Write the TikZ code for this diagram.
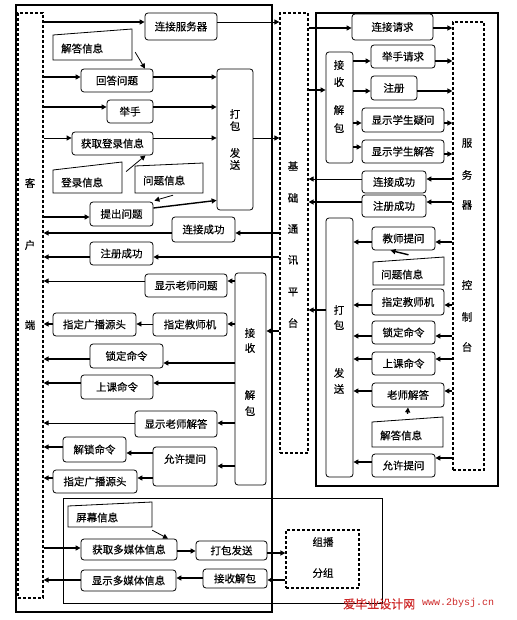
\documentclass[tikz,border=0pt]{standalone}
\usepackage{fontspec}
\setmainfont[FakeBold=0.3]{Noto Sans CJK SC}
\setmonofont{Liberation Mono}
\usetikzlibrary{arrows.meta,calc}
\definecolor{wmred}{RGB}{205,40,40}
\newcommand\fs{\fontsize{10.5}{12}\selectfont}
\tikzset{
  box/.style={draw, rounded corners=3pt, line width=0.8pt, inner sep=0pt, font=\fs},
  txt/.style={inner sep=0pt, font=\fs},
  fr/.style={draw, line width=1.1pt, inner sep=0pt},
  thinfr/.style={draw, line width=0.8pt, inner sep=0pt},
  dfr/.style={draw, dash pattern=on 3pt off 2pt, line width=1.2pt, inner sep=0pt},
  arr/.style={line width=1.4pt, -{Triangle[length=5pt,width=5pt]}},
  tarr/.style={line width=0.8pt, -{Triangle[length=5pt,width=5pt]}},
  docline/.style={line width=0.8pt},
}
% name x1 y1 x2 y2 text
\newcommand\mybox[6]{\node[box,minimum width={#4-#2},minimum height={#5-#3}] (#1) at ({(#2+#4)/2},{(#3+#5)/2}) {#6};}
% name x1 y1 x2 y2 style
\newcommand\myframe[6]{\node[#6,minimum width={#4-#2},minimum height={#5-#3}] (#1) at ({(#2+#4)/2},{(#3+#5)/2}) {};}
% name x1 ytopleft x2 ytopright ybottom text
\newcommand\mydoc[7]{%
  \node[inner sep=0pt,minimum width={#4-#2},minimum height={#6-#5}] (#1) at ({(#2+#4)/2},{(#5+#6)/2}) {};
  \draw[docline] (#2,#6) -- (#4,#6) -- (#4,#5) -- (#2,#3) -- cycle;
  \node[txt,anchor=west] (#1t) at ({#2+8},{(#3+#6)/2+1}) {#7};}
\newcommand\ch[4]{\node[txt] (#1) at (#2,#3) {#4};}
\begin{document}
\begin{tikzpicture}[x=1pt,y=-1pt]
\useasboundingbox (0,0) rectangle (516,620);
% frames
\myframe{cout}{16}{5}{272}{612}{fr}
\myframe{client}{18}{13}{43}{598}{dfr}
\myframe{plat}{280}{13}{308}{453}{dfr}
\myframe{sout}{316}{13}{498}{486}{fr}
\myframe{srv}{453}{22}{484}{470}{dfr}
\myframe{mm}{63}{498}{382}{603}{thinfr}
\myframe{mc}{286}{530}{359}{588}{dfr}
% vertical labels
\ch{c1}{30}{183}{客}\ch{c2}{30}{245}{户}\ch{c3}{30}{325}{端}
\ch{p1}{293}{166}{基}\ch{p2}{293}{198}{础}\ch{p3}{293}{229}{通}
\ch{p4}{293}{260}{讯}\ch{p5}{293}{292}{平}\ch{p6}{293}{323}{台}
\ch{s1}{467}{143}{服}\ch{s2}{467}{175}{务}\ch{s3}{467}{205}{器}
\ch{s4}{467}{285}{控}\ch{s5}{467}{317}{制}\ch{s6}{467}{347}{台}
\node[txt] (mct1) at (323,542) {组播};
\node[txt] (mct2) at (323,573) {分组};
% ---------- left (client) ----------
\mybox{L1}{145}{13}{217}{40}{连接服务器}
\mydoc{Ljd}{53}{35}{132}{29}{60}{解答信息}
\mybox{L2}{81}{69}{153}{92}{回答问题}
\mybox{L3}{107}{100}{153}{123}{举手}
\mybox{L4}{72}{132}{153}{155}{获取登录信息}
\mydoc{Ldl}{53}{170}{122}{162}{193}{登录信息}
\mydoc{Lwt}{135}{166}{203}{163}{193}{问题信息}
\mybox{L5}{90}{202}{153}{226}{提出问题}
\mybox{Lpk}{217}{69}{253}{210}{}
\ch{lp1}{235}{114}{打}\ch{lp2}{235}{126}{包}\ch{lp3}{235}{153}{发}\ch{lp4}{235}{165}{送}
\mybox{L6}{172}{217}{235}{242}{连接成功}
\mybox{L7}{90}{242}{153}{265}{注册成功}
\mybox{Lrx}{235}{273}{266}{485}{}
\ch{lr1}{250}{333}{接}\ch{lr2}{250}{348}{收}\ch{lr3}{250}{395}{解}\ch{lr4}{250}{411}{包}
\mybox{L8}{145}{274}{227}{297}{显示老师问题}
\mybox{L9}{153}{313}{227}{336}{指定教师机}
\mybox{L10}{53}{313}{136}{336}{指定广播源头}
\mybox{L11}{90}{344}{163}{368}{锁定命令}
\mybox{L12}{81}{375}{153}{399}{上课命令}
\mybox{L13}{135}{411}{217}{437}{显示老师解答}
\mybox{L14}{153}{447}{217}{486}{}
\node[txt] (L14t) at (185,459) {允许提问};
\mybox{L15}{63}{437}{126}{462}{解锁命令}
\mybox{L16}{53}{470}{137}{493}{指定广播源头}
% multimedia
\mydoc{M0}{68}{506}{152}{502}{527}{屏幕信息}
\mybox{M1}{81}{539}{177}{560}{获取多媒体信息}
\mybox{M2}{196}{541}{267}{560}{打包发送}
\mybox{M3}{203}{569}{267}{588}{接收解包}
\mybox{M4}{81}{570}{176}{591}{显示多媒体信息}
% ---------- right (server) ----------
\mybox{R1}{352}{14}{433}{40}{连接请求}
\mybox{Rrx}{326}{52}{353}{163}{}
\ch{rr1}{339}{65}{接}\ch{rr2}{339}{82}{收}\ch{rr3}{339}{110}{解}\ch{rr4}{339}{128}{包}
\mybox{R2}{371}{45}{435}{68}{举手请求}
\mybox{R3}{371}{76}{417}{100}{注册}
\mybox{R4}{362}{108}{444}{132}{显示学生疑问}
\mybox{R5}{362}{140}{444}{163}{显示学生解答}
\mybox{R6}{362}{171}{426}{193}{连接成功}
\mybox{R7}{362}{195}{426}{217}{注册成功}
\mybox{Rpk}{326}{218}{353}{477}{}
\ch{rp1}{339}{310}{打}\ch{rp2}{339}{325}{包}\ch{rp3}{339}{373}{发}\ch{rp4}{339}{389}{送}
\mybox{R8}{372}{227}{435}{250}{教师提问}
\mydoc{Rwt}{373}{262}{444}{257}{285}{问题信息}
\mybox{R9}{372}{289}{444}{315}{指定教师机}
\mybox{R10}{372}{321}{435}{344}{锁定命令}
\mybox{R11}{372}{352}{435}{375}{上课命令}
\mybox{R12}{372}{383}{444}{407}{老师解答}
\mydoc{Rjd}{372}{422}{443}{417}{447}{解答信息}
\mybox{R13}{372}{454}{435}{477}{允许提问}
% ---------- connectors: client side ----------
\draw[arr] (client.east |- 0,22) -- (L1.west |- 0,22);
\draw[tarr] (L1.east |- 0,22) -- (plat.west |- 0,22);
\draw[tarr] ($(Ljd.south east)+(3,-8)$) -- ($(L2.north)+(28,0)$);
\draw[arr] (client.east |- 0,77) -- (L2.west |- 0,77);
\draw[arr] (L2.east |- 0,77) -- (Lpk.west |- 0,77);
\draw[arr] (client.east |- 0,107) -- (L3.west |- 0,107);
\draw[arr] (L3.east |- 0,107) -- (Lpk.west |- 0,107);
\draw[tarr] (client.east |- 0,138) -- (L4.west |- 0,138);
\draw[tarr] (L4.east |- 0,138) -- (Lpk.west |- 0,138);
\draw[tarr] (Lpk.east |- 0,138) -- (plat.west |- 0,138);
\draw[tarr] ($(Ldl.east)+(4,-6)$) -- ($(L4.south)+(33,0)$);
\draw[tarr] ($(Lwt.south)+(4,2)$) -- ($(L5.north east)+(1,-1)$);
\draw[arr] (client.east |- 0,217) -- (L5.west |- 0,217);
\draw[arr] ($(L5.east)+(0,-6)$) -- ($(Lpk.south west)+(0,-10)$);
\draw[arr] (plat.west |- 0,233) -- (L6.east |- 0,233);
\draw[arr] (L6.west |- 0,233) -- (client.east |- 0,233);
\draw[arr] (plat.west |- 0,257) -- (L7.east |- 0,257);
\draw[arr] (L7.west |- 0,257) -- (client.east |- 0,257);
\draw[arr] (plat.west |- 0,331) -- (Lrx.east |- 0,331);
\draw[arr] (Lrx.west |- 0,281) -- (L8.east |- 0,281);
\draw[tarr] (L8.west |- 0,281) -- (client.east |- 0,281);
\draw[arr] (Lrx.west |- 0,324) -- (L9.east |- 0,324);
\draw[tarr] (L9.west |- 0,324) -- (L10.east |- 0,324);
\draw[arr] (L10.west |- 0,324) -- (client.east |- 0,324);
\draw[arr] (Lrx.west |- 0,363) -- (L11.east |- 0,363);
\draw[arr] (L11.west |- 0,359) -- (client.east |- 0,359);
\draw[arr] (Lrx.west |- 0,383) -- (L12.east |- 0,383);
\draw[arr] (L12.west |- 0,383) -- (client.east |- 0,383);
\draw[arr] (Lrx.west |- 0,423) -- (L13.east |- 0,423);
\draw[tarr] (L13.west |- 0,423) -- (client.east |- 0,423);
\draw[arr] (Lrx.west |- 0,466) -- (L14.east |- 0,466);
\draw[arr] (L14.west |- 0,453) -- (L15.east |- 0,453);
\draw[arr] (L15.west |- 0,447) -- (client.east |- 0,447);
\draw[arr] (L14.west |- 0,478) -- (L16.east |- 0,478);
\draw[arr] (L16.west |- 0,478) -- (client.east |- 0,478);
% multimedia
\draw[tarr] ($(M0.south east)+(0,3)$) -- ($(M1.north)+(39,0)$);
\draw[arr] (client.east |- 0,548) -- (M1.west |- 0,548);
\draw[arr] (M1.east |- 0,551) -- (M2.west |- 0,551);
\draw[arr] (M2.east |- 0,553) -- (mc.west |- 0,553);
\draw[arr] (mc.west |- 0,580) -- (M3.east |- 0,580);
\draw[arr] (M3.west |- 0,578) -- (M4.east |- 0,578);
\draw[arr] (M4.west |- 0,580) -- (client.east |- 0,580);
% ---------- connectors: server side ----------
\draw[arr] (plat.east |- 0,28) -- (R1.west |- 0,28);
\draw[arr] (R1.east |- 0,28) -- (srv.west |- 0,28);
\draw[arr] (plat.east |- 0,90) -- (Rrx.west |- 0,90);
\draw[arr] (Rrx.east |- 0,61) -- (R2.west |- 0,61);
\draw[arr] (R2.east |- 0,61) -- (srv.west |- 0,61);
\draw[arr] (Rrx.east |- 0,91) -- (R3.west |- 0,91);
\draw[arr] (R3.east |- 0,91) -- (srv.west |- 0,91);
\draw[arr] (Rrx.east |- 0,123) -- (R4.west |- 0,123);
\draw[arr] (R4.east |- 0,123) -- (srv.west |- 0,123);
\draw[arr] (Rrx.east |- 0,147) -- (R5.west |- 0,147);
\draw[arr] (R5.east |- 0,154) -- (srv.west |- 0,154);
\draw[arr] (srv.west |- 0,179) -- (R6.east |- 0,179);
\draw[tarr] (R6.west |- 0,179) -- (plat.east |- 0,179);
\draw[arr] (srv.west |- 0,202) -- (R7.east |- 0,202);
\draw[arr] (R7.west |- 0,202) -- (plat.east |- 0,202);
\draw[arr] (Rpk.west |- 0,310) -- (plat.east |- 0,310);
\draw[arr] (srv.west |- 0,242) -- (R8.east |- 0,242);
\draw[arr] (R8.west |- 0,242) -- (Rpk.east |- 0,242);
\draw[arr] ($(Rwt.north)+(0,-2)$) -- ($(R8.south)+(-13,0)$);
\draw[arr] (srv.west |- 0,305) -- (R9.east |- 0,305);
\draw[arr] (R9.west |- 0,305) -- (Rpk.east |- 0,305);
\draw[arr] (srv.west |- 0,336) -- (R10.east |- 0,336);
\draw[arr] (R10.west |- 0,336) -- (Rpk.east |- 0,336);
\draw[arr] (srv.west |- 0,359) -- (R11.east |- 0,359);
\draw[arr] (R11.west |- 0,359) -- (Rpk.east |- 0,359);
\draw[arr] (srv.west |- 0,391) -- (R12.east |- 0,391);
\draw[arr] (R12.west |- 0,391) -- (Rpk.east |- 0,391);
\draw[arr] ($(Rjd.north)+(0,-3)$) -- (R12.south);
\draw[arr] (srv.west |- 0,458) -- (R13.east |- 0,458);
\draw[arr] (R13.west |- 0,462) -- (Rpk.east |- 0,462);
% watermark
\node[inner sep=0pt, anchor=west, text=wmred, font=\fontsize{12}{13}\selectfont] (wm1) at (343,604) {爱毕业设计网};
\node[inner sep=0pt, anchor=west, text=wmred, font=\ttfamily\fontsize{10}{12}\selectfont] (wm2) at (422,603) {www.2bysj.cn};
\end{tikzpicture}
\end{document}
